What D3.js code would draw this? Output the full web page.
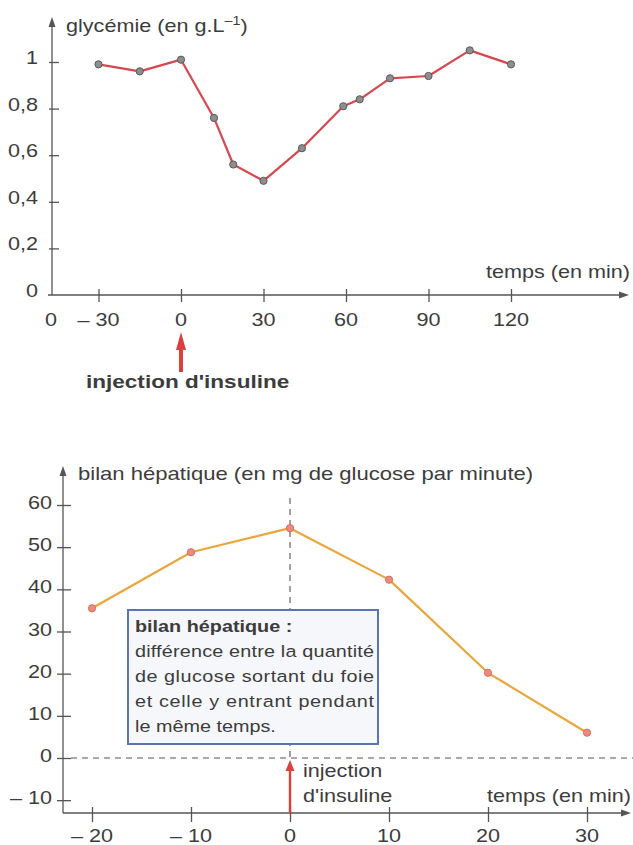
<!DOCTYPE html>
<html><head><meta charset="utf-8">
<script src="https://cdn.jsdelivr.net/npm/d3@7"></script>
<style>
html,body{margin:0;padding:0;background:#fff;}
svg{display:block;}
text{font-family:"Liberation Sans",Arial,Helvetica,sans-serif;fill:#3c3c3c;}
</style></head>
<body>
<svg id="c" width="633" height="845"></svg>
<script>
// ---- data (top chart: glycémie) ----
const glyTimes  = [-30, -15, 0, 12, 19, 30, 44, 59, 65, 76, 90, 105, 120];
const glyValues = [0.99, 0.96, 1.01, 0.76, 0.56, 0.49, 0.63, 0.81, 0.84, 0.93, 0.94, 1.05, 0.99];
const glyXTicks = [-30, 0, 30, 60, 90, 120];
const glyXLabels = ["– 30", "0", "30", "60", "90", "120"];
const glyYTicks = [0, 0.2, 0.4, 0.6, 0.8, 1];
const glyYLabels = ["0", "0,2", "0,4", "0,6", "0,8", "1"];

// ---- data (bottom chart: bilan hépatique) ----
const bilTimes  = [-20, -10, 0, 10, 20, 30];
const bilValues = [35.5, 48.8, 54.5, 42.3, 20.2, 6];
const bilXTicks = [-20, -10, 0, 10, 20, 30];
const bilXLabels = ["– 20", "– 10", "0", "10", "20", "30"];
const bilYTicks = [-10, 0, 10, 20, 30, 40, 50, 60];
const bilYLabels = ["– 10", "0", "10", "20", "30", "40", "50", "60"];
const boxLines = ["différence entre la quantité", "de glucose sortant du foie", "et celle y entrant pendant", "le même temps."];

const SX = 1.2;
const svg = d3.select("#c");
const AX = "#555";

function label(g, x, y, s, o = {}) {
  return g.append("text")
    .attr("transform", `translate(${x},${y}) scale(${SX},1)`)
    .attr("text-anchor", o.anchor || "start")
    .style("font-size", (o.size || 18) + "px")
    .style("font-weight", o.weight || "normal")
    .text(s);
}
function arrowHead(g, x, y, dir, len, half, color) {
  let pts;
  if (dir === "up") pts = [[x, y], [x - half, y + len], [x + half, y + len]];
  else pts = [[x, y], [x - len, y - half], [x - len, y + half]];
  g.append("path").attr("d", d3.line()(pts) + "Z").attr("fill", color);
}

// ================= TOP CHART =================
const gt = svg.append("g");
const xT = d3.scaleLinear().domain([0, 30]).range([181, 263.5]);
const yT = d3.scaleLinear().domain([0, 1]).range([295, 62]);
const yAxT = 52, xAxT = yT(0);

// axes lines
gt.append("line").attr("x1", yAxT).attr("x2", yAxT).attr("y1", xAxT).attr("y2", 26).attr("stroke", AX).attr("stroke-width", 1.3);
arrowHead(gt, yAxT, 17, "up", 10, 3.5, AX);
gt.append("line").attr("x1", yAxT - 4).attr("x2", 620).attr("y1", xAxT).attr("y2", xAxT).attr("stroke", AX).attr("stroke-width", 1.3);
arrowHead(gt, 629, xAxT, "right", 10, 3.5, AX);

// x ticks via d3 axis
const axXT = gt.append("g").attr("transform", `translate(0,${xAxT})`)
  .call(d3.axisBottom(xT).tickValues(glyXTicks).tickSize(7).tickFormat(""));
axXT.select(".domain").remove();
axXT.selectAll(".tick line").attr("y1", -6).attr("stroke", AX).attr("stroke-width", 1.3);
glyXTicks.forEach((t, i) => label(gt, xT(t), 326, glyXLabels[i], {anchor: "middle"}));
label(gt, yAxT - 1, 326, "0", {anchor: "middle"});

// y ticks
const axYT = gt.append("g").attr("transform", `translate(${yAxT},0)`)
  .call(d3.axisRight(yT).tickValues(glyYTicks.filter(v => v > 0)).tickSize(7).tickFormat(""));
axYT.select(".domain").remove();
axYT.selectAll(".tick line").attr("x1", -3).attr("stroke", AX).attr("stroke-width", 1.3);
glyYTicks.forEach((v, i) => label(gt, 38, yT(v) + 2, glyYLabels[i], {anchor: "end"}));

// title
const tt = label(gt, 66, 32, "glycémie (en g.L", {});
tt.append("tspan").attr("dy", -7).style("font-size", "12px").text("–1");
tt.append("tspan").attr("dy", 7).text(")");
label(gt, 630, 278, "temps (en min)", {anchor: "end"});

// line + markers
const glyData = glyTimes.map((t, i) => [t, glyValues[i]]);
gt.append("path").datum(glyData)
  .attr("d", d3.line().x(d => xT(d[0])).y(d => yT(d[1])))
  .attr("fill", "none").attr("stroke", "#d8474f").attr("stroke-width", 2.2).attr("stroke-linejoin", "round");
gt.selectAll("circle.g").data(glyData).join("circle")
  .attr("cx", d => xT(d[0])).attr("cy", d => yT(d[1])).attr("r", 3.6)
  .attr("fill", "#8e8e8e").attr("stroke", "#5a5a5a").attr("stroke-width", 1);

// injection arrow
const RED = "#d9413f";
gt.append("line").attr("x1", xT(0)).attr("x2", xT(0)).attr("y1", 372).attr("y2", 345).attr("stroke", RED).attr("stroke-width", 4);
arrowHead(gt, xT(0), 332, "up", 18, 5, RED);
label(gt, 86, 388, "injection d'insuline", {weight: "bold", size: 18.8});

// ================= BOTTOM CHART =================
const gb = svg.append("g");
const xB = d3.scaleLinear().domain([0, 10]).range([290, 389]);
const yB = d3.scaleLinear().domain([0, 60]).range([758, 505]);
const yAxB = 63, xAxB = 813;

gb.append("line").attr("x1", yAxB).attr("x2", yAxB).attr("y1", xAxB).attr("y2", 476).attr("stroke", AX).attr("stroke-width", 1.3);
arrowHead(gb, yAxB, 466, "up", 10, 3.5, AX);
gb.append("line").attr("x1", yAxB).attr("x2", 622).attr("y1", xAxB).attr("y2", xAxB).attr("stroke", AX).attr("stroke-width", 1.3);
arrowHead(gb, 631, xAxB, "right", 10, 3.5, AX);

const axXB = gb.append("g").attr("transform", `translate(0,${xAxB})`)
  .call(d3.axisBottom(xB).tickValues(bilXTicks).tickSize(9).tickFormat(""));
axXB.select(".domain").remove();
axXB.selectAll(".tick line").attr("y1", -6).attr("stroke", AX).attr("stroke-width", 1.3);
bilXTicks.forEach((t, i) => label(gb, xB(t), 842, bilXLabels[i], {anchor: "middle"}));

const axYB = gb.append("g").attr("transform", `translate(${yAxB},0)`)
  .call(d3.axisRight(yB).tickValues(bilYTicks).tickSize(8).tickFormat(""));
axYB.select(".domain").remove();
axYB.selectAll(".tick line").attr("x1", -6).attr("stroke", AX).attr("stroke-width", 1.3);
bilYTicks.forEach((v, i) => label(gb, 52, yB(v) + 4, bilYLabels[i], {anchor: "end"}));

label(gb, 78, 480, "bilan hépatique (en mg de glucose par minute)", {size: 18.4});
label(gb, 631, 802, "temps (en min)", {anchor: "end"});

// dashed reference lines
gb.append("line").attr("x1", xB(0)).attr("x2", xB(0)).attr("y1", 498).attr("y2", yB(0) + 4)
  .attr("stroke", "#555").attr("stroke-width", 1.1).attr("stroke-dasharray", "6,5");
gb.append("line").attr("x1", yAxB + 8).attr("x2", 633).attr("y1", yB(0)).attr("y2", yB(0))
  .attr("stroke", "#555").attr("stroke-width", 1.1).attr("stroke-dasharray", "6,5");

// line + markers
const bilData = bilTimes.map((t, i) => [t, bilValues[i]]);
gb.append("path").datum(bilData)
  .attr("d", d3.line().x(d => xB(d[0])).y(d => yB(d[1])))
  .attr("fill", "none").attr("stroke", "#eaa63c").attr("stroke-width", 2.2).attr("stroke-linejoin", "round");
gb.selectAll("circle.b").data(bilData).join("circle")
  .attr("cx", d => xB(d[0])).attr("cy", d => yB(d[1])).attr("r", 3.6)
  .attr("fill", "#ec8a7e").attr("stroke", "#dc6a5e").attr("stroke-width", 1);

// box
gb.append("rect").attr("x", 128).attr("y", 610).attr("width", 250).attr("height", 134)
  .attr("fill", "#f6f7fa").attr("stroke", "#5a75b4").attr("stroke-width", 2);
label(gb, 135, 632, "bilan hépatique :", {weight: "bold", size: 16.5});
boxLines.forEach((s, i) => {
  const t = label(gb, 135, 657 + i * 25, s, {size: 16.5});
  if (i < boxLines.length - 1) t.attr("textLength", 239 / SX).attr("lengthAdjust", "spacing");
});

// injection arrow (bottom)
gb.append("line").attr("x1", xB(0)).attr("x2", xB(0)).attr("y1", xAxB).attr("y2", 770).attr("stroke", RED).attr("stroke-width", 2.4);
arrowHead(gb, xB(0), 760, "up", 11, 4.5, RED);
label(gb, 303, 777, "injection", {});
label(gb, 303, 802, "d'insuline", {});
</script>
</body></html>
